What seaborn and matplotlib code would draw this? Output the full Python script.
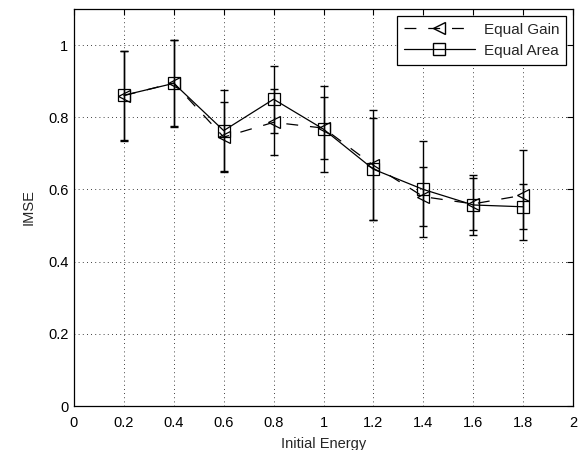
import numpy as np
import pandas as pd
import matplotlib
matplotlib.use("Agg")
import matplotlib.pyplot as plt
import seaborn as sns
from matplotlib.lines import Line2D

energy = [0.2, 0.4, 0.6, 0.8, 1.0, 1.2, 1.4, 1.6, 1.8]
gain_mean = [0.860, 0.895, 0.745, 0.786, 0.770, 0.667, 0.580, 0.560, 0.584]
gain_err = [0.125, 0.120, 0.096, 0.091, 0.086, 0.153, 0.081, 0.073, 0.125]
area_mean = [0.861, 0.894, 0.763, 0.850, 0.767, 0.656, 0.600, 0.557, 0.552]
area_err = [0.124, 0.121, 0.113, 0.093, 0.120, 0.142, 0.133, 0.082, 0.062]
series_names = ["Equal Gain", "Equal Area"]
x_ticks = [0, 0.2, 0.4, 0.6, 0.8, 1, 1.2, 1.4, 1.6, 1.8, 2]
x_tick_labels = ["0", "0.2", "0.4", "0.6", "0.8", "1", "1.2", "1.4", "1.6", "1.8", "2"]
y_ticks = [0, 0.2, 0.4, 0.6, 0.8, 1]
y_tick_labels = ["0", "0.2", "0.4", "0.6", "0.8", "1"]

df = pd.DataFrame({
    "Initial Energy": energy * 2,
    "IMSE": gain_mean + area_mean,
    "err": gain_err + area_err,
    "series": [series_names[0]] * len(energy) + [series_names[1]] * len(energy),
})

sns.set_style("white")
plt.rcParams["font.family"] = ["Liberation Sans", "DejaVu Sans"]
FS = 10.5
plt.rcParams["font.size"] = FS

fig = plt.figure(figsize=(5.86, 4.5), dpi=100)
ax = fig.add_axes([74 / 586, 44 / 450, (573 - 74) / 586, (406 - 9) / 450])

DASH = (9.5, 9.5)

# error bars
for name in series_names:
    sub = df[df["series"] == name]
    ax.errorbar(sub["Initial Energy"], sub["IMSE"], yerr=sub["err"], fmt="none",
                ecolor="black", elinewidth=1.0, capsize=3.0, capthick=1.0, zorder=2)

sns.lineplot(data=df, x="Initial Energy", y="IMSE", hue="series", style="series",
             palette={"Equal Gain": "black", "Equal Area": "black"},
             markers={"Equal Gain": "<", "Equal Area": "s"},
             dashes={"Equal Gain": DASH, "Equal Area": ""},
             markersize=9, markerfacecolor="none", markeredgecolor="black",
             markeredgewidth=0.9, linewidth=0.9, ax=ax, legend=False, zorder=3)

ax.set_xlim(0, 2)
ax.set_ylim(0, 1.1)
ax.set_xticks(x_ticks)
ax.set_xticklabels(x_tick_labels)
ax.set_yticks(y_ticks)
ax.set_yticklabels(y_tick_labels)
ax.set_xlabel("Initial Energy", fontsize=FS, labelpad=5)
ax.set_ylabel("IMSE", fontsize=FS, labelpad=9)
ax.tick_params(axis="x", pad=7)
ax.tick_params(axis="y", pad=4)
ax.tick_params(direction="in", top=True, right=True, length=4, width=0.8,
               labelsize=FS, colors="black")
ax.grid(True, linestyle=(0, (1, 4)), color="black", linewidth=0.6)
for s in ax.spines.values():
    s.set_color("black")
    s.set_linewidth(0.9)

handles = [
    Line2D([], [], color="black", linestyle=(0, DASH), marker="<", markersize=9,
           markerfacecolor="none", markeredgecolor="black", linewidth=0.9),
    Line2D([], [], color="black", linestyle="-", marker="s", markersize=9,
           markerfacecolor="none", markeredgecolor="black", linewidth=0.9),
]
leg = ax.legend(handles, series_names, loc="upper right", fancybox=False,
                edgecolor="black", framealpha=1, handlelength=4.6,
                borderaxespad=0.45, fontsize=11, borderpad=0.45, labelspacing=0.45,
                handletextpad=0.6)
leg.get_frame().set_linewidth(0.9)

fig.savefig("out.png", dpi=100)
